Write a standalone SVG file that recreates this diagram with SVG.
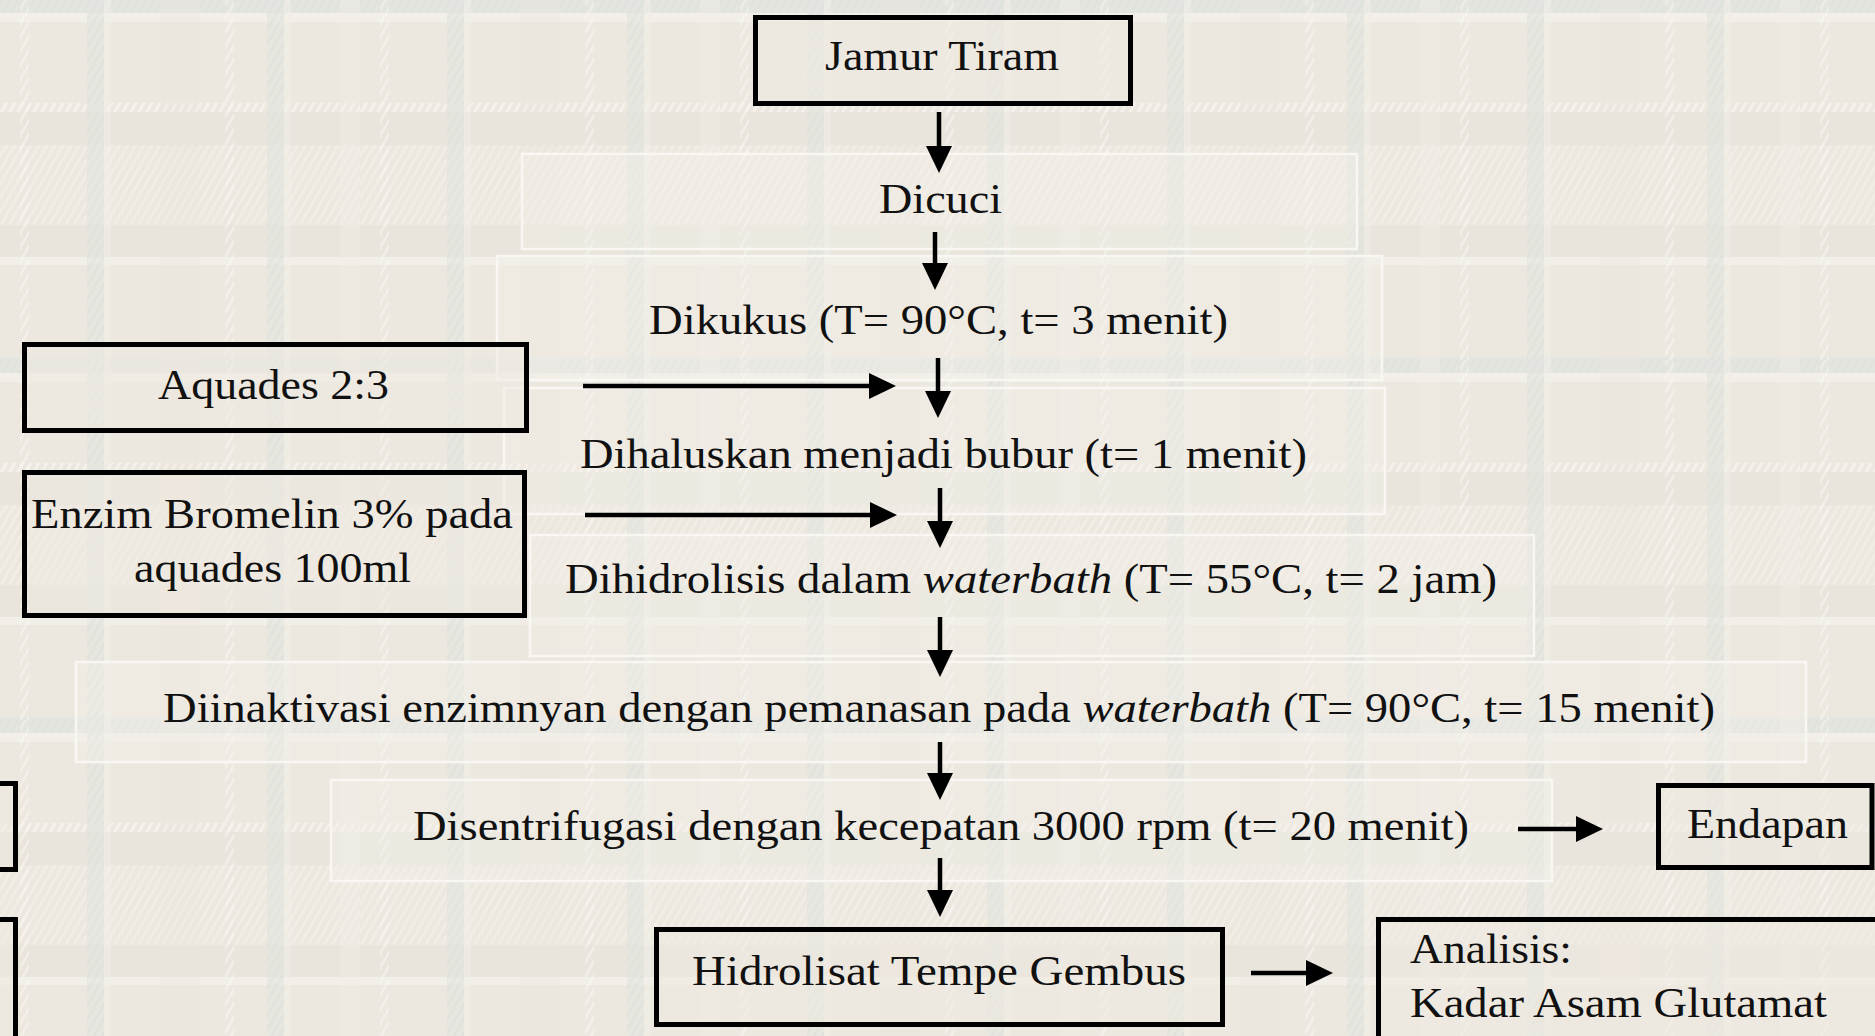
<svg xmlns="http://www.w3.org/2000/svg" width="1875" height="1036" viewBox="0 0 1875 1036">
<style>
.t{font-family:"Liberation Serif","Times New Roman",serif;font-size:43px;fill:#111}
.box{fill:#efe9e0;fill-opacity:0.55;stroke:#000;stroke-width:5}
.faint{fill:#f4f0ea;fill-opacity:0.35;stroke:#f9f7f3;stroke-width:2.5}
.c{stroke:#000;stroke-width:4.5;fill:none;marker-end:url(#ah)}
</style>
<defs>
<marker id="ah" viewBox="0 0 27 26" markerWidth="27" markerHeight="26" refX="12" refY="13" orient="auto" markerUnits="userSpaceOnUse">
<path d="M0,0 L27,13 L0,26 Z" fill="#000"/>
</marker>
<pattern id="hl" width="7" height="7" patternUnits="userSpaceOnUse" patternTransform="rotate(30)">
<rect width="2.5" height="7" fill="#faf8f4"/>
</pattern>
<pattern id="hb" width="7" height="7" patternUnits="userSpaceOnUse" patternTransform="rotate(30)">
<rect width="2.5" height="7" fill="#d9ddda"/>
</pattern>
<pattern id="plaid" width="360" height="360" patternUnits="userSpaceOnUse">
<rect width="360" height="360" fill="#ede8df"/>
<rect x="0" y="145" width="360" height="80" fill="url(#hl)" opacity="0.35"/>
<rect x="0" y="112" width="360" height="33" fill="#e9e5dc"/>
<rect x="0" y="225" width="360" height="32" fill="#e9e5dc"/>
<rect x="0" y="13" width="360" height="9" fill="#f2efe9"/>
<rect x="0" y="257" width="360" height="8" fill="#f2efe9"/>
<rect x="0" y="103" width="360" height="9" fill="url(#hl)" opacity="0.7"/>
<rect x="0" y="0" width="360" height="13" fill="#e5e5e0"/>
<rect x="0" y="357" width="360" height="3" fill="#e5e5e0"/>
<rect x="0" y="0" width="360" height="13" fill="url(#hb)" opacity="0.4"/>
<rect x="160" y="0" width="40" height="360" fill="#e9e5dc" opacity="0.35"/>
<rect x="340" y="0" width="40" height="360" fill="#f1ede6" opacity="0.35"/>
<rect x="87" y="0" width="17" height="360" fill="#e3e4df" opacity="0.6"/>
<rect x="267" y="0" width="17" height="360" fill="#e3e4df" opacity="0.6"/>
<rect x="87" y="0" width="17" height="360" fill="url(#hb)" opacity="0.4"/>
<rect x="267" y="0" width="17" height="360" fill="url(#hb)" opacity="0.4"/>
<rect x="104" y="0" width="7" height="360" fill="#f2efe9" opacity="0.5"/>
<rect x="284" y="0" width="7" height="360" fill="#f2efe9" opacity="0.5"/>
<rect x="20" y="0" width="9" height="360" fill="url(#hl)" opacity="0.5"/>
<rect x="225" y="0" width="9" height="360" fill="url(#hl)" opacity="0.5"/>
</pattern>
</defs>
<rect width="1875" height="1036" fill="url(#plaid)"/>

<g id="faint-boxes">
<rect class="faint" x="522" y="154" width="835" height="95"/>
<rect class="faint" x="497" y="256" width="885" height="124"/>
<rect class="faint" x="504" y="388" width="881" height="126"/>
<rect class="faint" x="530" y="535" width="1004" height="121"/>
<rect class="faint" x="76" y="662" width="1730" height="100"/>
<rect class="faint" x="331" y="780" width="1221" height="101"/>
</g>

<g id="connectors">
<line class="c" x1="939" y1="112" x2="939" y2="158"/>
<line class="c" x1="935" y1="232" x2="935" y2="275"/>
<line class="c" x1="938" y1="358" x2="938" y2="403"/>
<line class="c" x1="940" y1="488" x2="940" y2="533"/>
<line class="c" x1="940" y1="617" x2="940" y2="662"/>
<line class="c" x1="940" y1="742" x2="940" y2="785"/>
<line class="c" x1="940" y1="858" x2="940" y2="902"/>
<line class="c" x1="583" y1="386" x2="881" y2="386"/>
<line class="c" x1="585" y1="515" x2="882" y2="515"/>
<line class="c" x1="1518" y1="829" x2="1588" y2="829"/>
<line class="c" x1="1251" y1="973" x2="1318" y2="973"/>
</g>

<g id="n-jamur">
<rect class="box" x="755.5" y="17.5" width="375" height="86"/>
<text class="t" x="825" y="70" textLength="234" lengthAdjust="spacingAndGlyphs">Jamur Tiram</text>
</g>
<g id="n-dicuci">
<text class="t" x="879" y="213" textLength="123" lengthAdjust="spacingAndGlyphs">Dicuci</text>
</g>
<g id="n-dikukus">
<text class="t" x="649" y="334" textLength="579" lengthAdjust="spacingAndGlyphs">Dikukus (T= 90°C, t= 3 menit)</text>
</g>
<g id="n-aquades">
<rect class="box" x="24.5" y="344.5" width="502" height="86"/>
<text class="t" x="158" y="399" textLength="231" lengthAdjust="spacingAndGlyphs">Aquades 2:3</text>
</g>
<g id="n-dihaluskan">
<text class="t" x="580" y="468" textLength="727" lengthAdjust="spacingAndGlyphs">Dihaluskan menjadi bubur (t= 1 menit)</text>
</g>
<g id="n-enzim">
<rect class="box" x="24.5" y="472.5" width="500" height="143"/>
<text class="t" x="31" y="528" textLength="482" lengthAdjust="spacingAndGlyphs">Enzim Bromelin 3% pada</text>
<text class="t" x="134" y="582" textLength="277" lengthAdjust="spacingAndGlyphs">aquades 100ml</text>
</g>
<g id="n-dihidrolisis">
<text class="t" x="565" y="593" textLength="932" lengthAdjust="spacingAndGlyphs">Dihidrolisis dalam <tspan font-style="italic">waterbath</tspan> (T= 55°C, t= 2 jam)</text>
</g>
<g id="n-diinaktivasi">
<text class="t" x="163" y="722" textLength="1552" lengthAdjust="spacingAndGlyphs">Diinaktivasi enzimnyan dengan pemanasan pada <tspan font-style="italic">waterbath</tspan> (T= 90°C, t= 15 menit)</text>
</g>
<g id="n-disentrifugasi">
<text class="t" x="413" y="840" textLength="1056" lengthAdjust="spacingAndGlyphs">Disentrifugasi dengan kecepatan 3000 rpm (t= 20 menit)</text>
</g>
<g id="n-endapan">
<rect class="box" x="1658.5" y="785.5" width="213.5" height="82"/>
<text class="t" x="1687" y="838" textLength="161" lengthAdjust="spacingAndGlyphs">Endapan</text>
</g>
<g id="n-hidrolisat">
<rect class="box" x="656.5" y="929.5" width="566" height="95"/>
<text class="t" x="692" y="985" textLength="494" lengthAdjust="spacingAndGlyphs">Hidrolisat Tempe Gembus</text>
</g>
<g id="n-analisis">
<rect class="box" x="1378.5" y="919.5" width="600" height="200"/>
<text class="t" x="1410" y="963" textLength="162" lengthAdjust="spacingAndGlyphs">Analisis:</text>
<text class="t" x="1410" y="1017" textLength="417" lengthAdjust="spacingAndGlyphs">Kadar Asam Glutamat</text>
</g>
<g id="n-left-top">
<rect class="box" x="-300" y="783.5" width="315.5" height="86"/>
</g>
<g id="n-left-bottom">
<rect class="box" x="-300" y="919.5" width="315.5" height="200"/>
</g>
</svg>
